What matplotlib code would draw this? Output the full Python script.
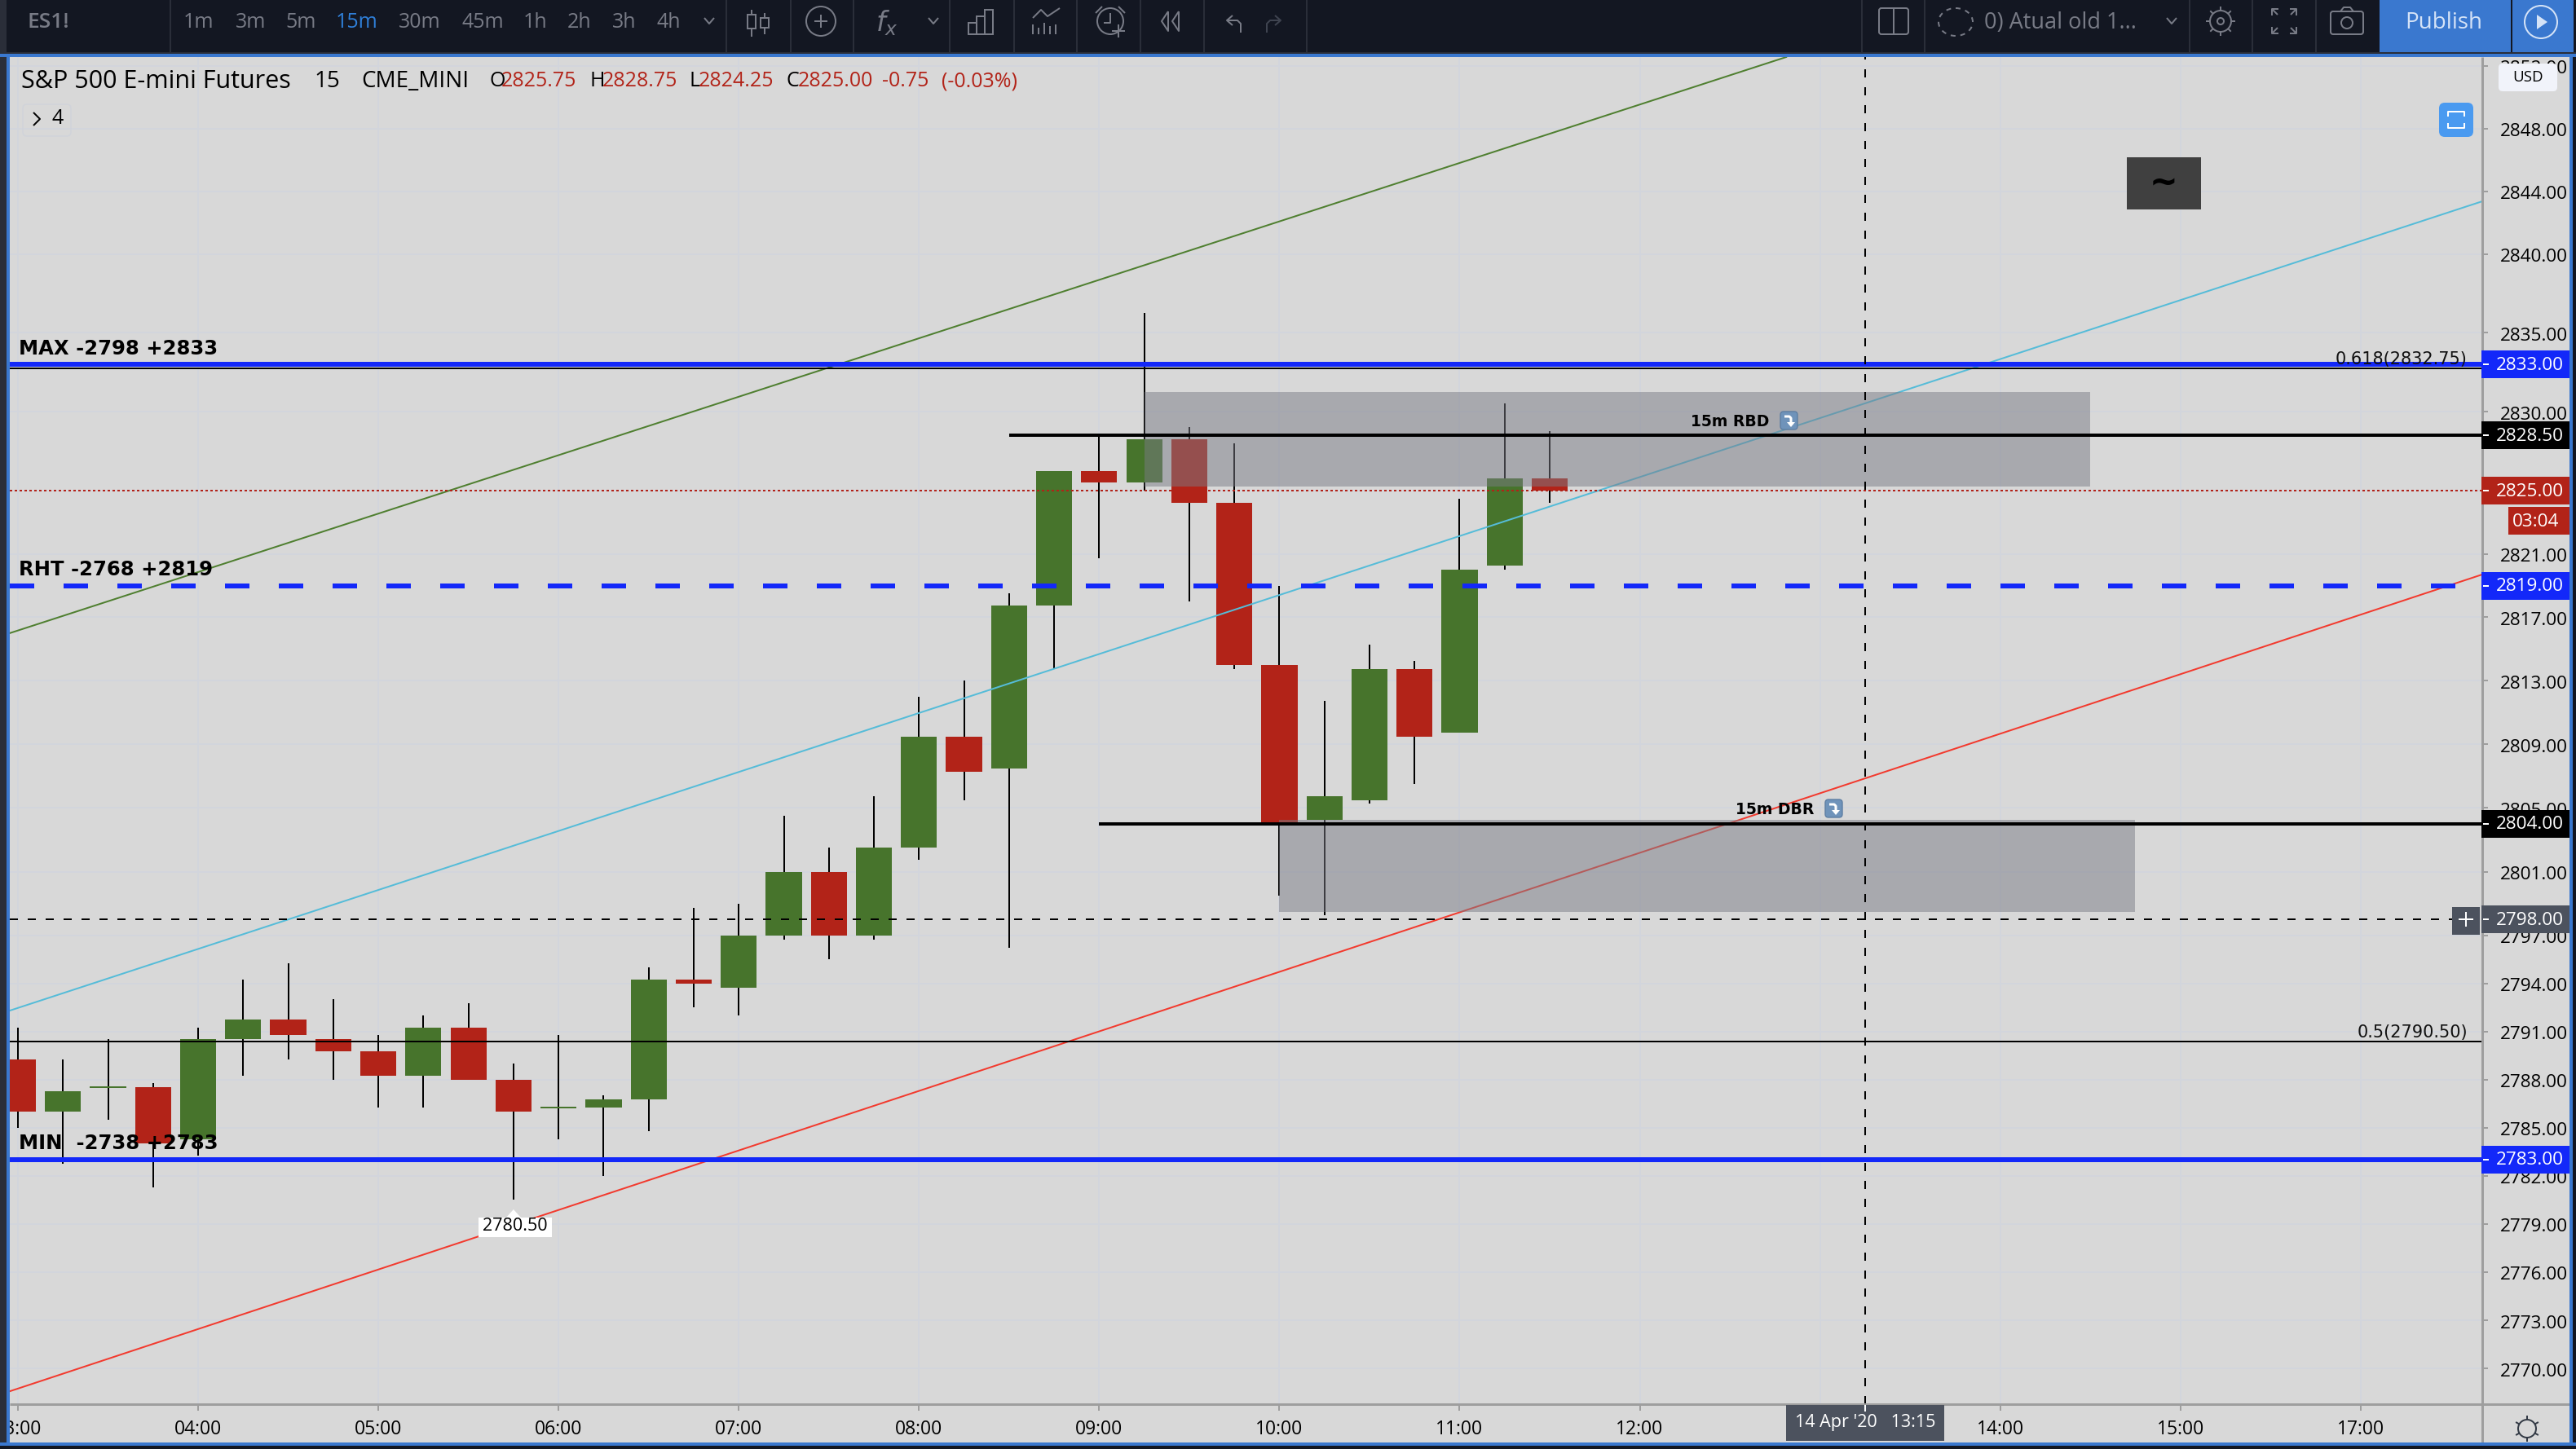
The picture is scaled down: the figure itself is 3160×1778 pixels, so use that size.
import numpy as np
import matplotlib
matplotlib.use("Agg")
import matplotlib.pyplot as plt
from matplotlib.patches import Rectangle, Circle, FancyBboxPatch, Polygon, Ellipse
from matplotlib.ticker import FixedLocator, FixedFormatter, NullLocator
from matplotlib.transforms import ScaledTranslation

# ---------- data ----------
opens  = [2789.25,2786,2787.5,2787.5,2784.25,2790.5,2791.75,2790.5,2789.75,2788.25,2791.25,2788,2786.25,2786.25,2786.75,
          2794.25,2793.75,2797,2801,2797,2802.5,2809.5,2807.5,2817.75,2826.25,2825.5,2828.25,2824.25,2814,2804.25,
          2805.5,2813.75,2809.75,2820.25,2825.75]
highs  = [2791.25,2789.25,2790.5,2787.75,2791.25,2794.25,2795.25,2793,2790.75,2792,2792.75,2789,2790.75,2787,2795,
          2798.75,2799,2804.5,2802.5,2805.75,2812,2813,2818.5,2826.25,2828.5,2836.25,2829,2828,2819,2811.75,
          2815.25,2814.25,2824.5,2830.5,2828.75]
lows   = [2785,2782.75,2785.5,2781.25,2783.25,2788.25,2789.25,2788,2786.25,2786.25,2788,2780.5,2784.25,2782,2784.75,
          2792.5,2792,2796.75,2795.5,2796.75,2801.75,2805.5,2796.25,2813.75,2820.75,2825,2818,2813.75,2799.5,2798.25,
          2805.25,2806.5,2809.75,2820,2824.25]
closes = [2786,2787.25,2787.5,2784,2790.5,2791.75,2790.75,2789.75,2788.25,2791.25,2788,2786,2786.25,2786.75,2794.25,
          2794,2797,2801,2797,2802.5,2809.5,2807.25,2817.75,2826.25,2825.5,2828.25,2824.25,2814,2804,2805.75,
          2813.75,2809.5,2820,2825.75,2825]
bars = np.arange(len(opens))

y_ticks = [2770,2773,2776,2779,2782,2785,2788,2791,2794,2797,2801,2805,2809,2813,2817,2821,2825,2830,2835,2840,2844,2848,2852]
x_ticks = [0,4,8,12,16,20,24,28,32,36,40,44,48,52]
x_labels = ["03:00","04:00","05:00","06:00","07:00","08:00","09:00","10:00","11:00","12:00","","14:00","15:00","17:00"]

green_line_x, green_line_y = [-0.181, 39.25], [2816.0, 2852.56]
cyan_line_x,  cyan_line_y  = [-0.181, 54.70], [2792.3, 2843.36]
red_line_x,   red_line_y   = [-0.181, 54.70], [2768.6, 2819.7]

max_level, rht_level, min_level = 2833.0, 2819.0, 2783.0
fib_618, fib_50 = 2832.75, 2790.375
rbd_level, dbr_level = 2828.5, 2804.0
rbd_start, dbr_start = 22, 24
rbd_zone = (25, 46, 2825.25, 2831.25)
dbr_zone = (28, 47, 2798.5, 2804.25)
last_price, cross_price, cross_bar = 2825.0, 2798.0, 41
low_bar, low_price = 11, 2780.5

price_tags = [(2833.0,"#1328f9"),(2828.5,"#000000"),(2825.0,"#b22318"),(2819.0,"#1328f9"),
              (2804.0,"#000000"),(2798.0,"#4c525e"),(2783.0,"#1328f9")]

# ---------- style ----------
BG="#d8d8d8"; GRID="#d2d5dc"; GREEN="#47742c"; RED="#b22318"; BLUE="#1328f9"
DARK="#131722"; GAP="#2a2e39"; EDGE="#3a78cf"; ICON="#787b86"; AXIS="#9e9e9e"
UI="Open Sans"; px=0.72
W,H=3160,1778
fig=plt.figure(figsize=(W/100,H/100),dpi=100,facecolor=BG)
L,R,T,B=12,3045,70,1723
ax=fig.add_axes([L/W,1-B/H,(R-L)/W,(B-T)/H],facecolor=BG)
ax.set_yscale("log")
ax.set_ylim(2767.8,2852.56)
ax.set_xlim(-0.181,54.70)
for s in ax.spines.values(): s.set_visible(False)
ax.yaxis.tick_right()
ax.yaxis.set_major_locator(FixedLocator(y_ticks))
ax.yaxis.set_major_formatter(FixedFormatter([f"{v:.2f}" for v in y_ticks]))
ax.yaxis.set_minor_locator(NullLocator())
ax.xaxis.set_major_locator(FixedLocator(x_ticks))
ax.xaxis.set_major_formatter(FixedFormatter(x_labels))
ax.tick_params(axis="y",length=7*px,width=2*px,color=AXIS,pad=15*px,labelsize=16.2,labelcolor="#000000")
ax.tick_params(axis="x",length=8*px,width=2*px,color=AXIS,pad=10*px,labelsize=16.5,labelcolor="#000000")
shift=ScaledTranslation(0,-1.5/100,fig.dpi_scale_trans)
for t in ax.get_xticklabels()+ax.get_yticklabels():
    t.set_fontfamily(UI)
    t.set_transform(t.get_transform()+shift)
ax.grid(True,color=GRID,lw=2*px,zorder=0)
ax.set_axisbelow(True)

# candles
ax.vlines(bars,lows,highs,color="#000000",lw=2*px,zorder=2)
for x,o,c in zip(bars,opens,closes):
    col=GREEN if c>=o else RED
    if o==c:
        ax.hlines(o,x-0.4,x+0.4,color=col,lw=2*px,zorder=3)
    else:
        ax.bar(x,abs(c-o),bottom=min(o,c),width=0.8,color=col,linewidth=0,zorder=3)

# trend lines
ax.plot(green_line_x,green_line_y,color="#4f7f30",lw=2*px,zorder=4)
ax.plot(cyan_line_x,cyan_line_y,color="#55bcd8",lw=2*px,zorder=4)
ax.plot(red_line_x,red_line_y,color="#f23a2e",lw=2*px,zorder=4)

# zones
for x0,x1,y0,y1 in (rbd_zone,dbr_zone):
    ax.add_patch(Rectangle((x0,y0),x1-x0,y1-y0,fc="#7a7b85",ec="none",alpha=0.5,zorder=5))

xmin,xmax=ax.get_xlim()
ax.hlines(fib_618,xmin,xmax,color="#000000",lw=2*px,zorder=6)
ax.hlines(fib_50,xmin,xmax,color="#000000",lw=2*px,zorder=6)
ax.hlines(max_level,xmin,xmax,color=BLUE,lw=6*px,zorder=6)
ax.hlines(min_level,xmin,xmax,color=BLUE,lw=6*px,zorder=6)
ax.plot([xmin,xmax],[rht_level,rht_level],color=BLUE,lw=6*px,zorder=6,dash_capstyle="butt",dashes=(5,6))
ax.hlines(rbd_level,rbd_start,xmax,color="#000000",lw=4*px,zorder=6)
ax.hlines(dbr_level,dbr_start,xmax,color="#000000",lw=4*px,zorder=6)
ax.plot([xmin,xmax],[last_price,last_price],color=RED,lw=2*px,zorder=6,dashes=(1.5,1.5),dash_capstyle="butt")
xcross_end=(3008-L)/(R-L)*(xmax-xmin)+xmin
ax.plot([xmin,xcross_end],[cross_price,cross_price],color="#000000",lw=2*px,zorder=7,dashes=(5,6),dash_capstyle="butt")
ax.plot([cross_bar,cross_bar],ax.get_ylim(),color="#000000",lw=2*px,zorder=7,dashes=(5,6),dash_capstyle="butt")

fig.canvas.draw()
def ypx(p): return H-ax.transData.transform((0,p))[1]
def xpx(b): return ax.transData.transform((b,2800))[0]

# ---------- overlay in pixel space ----------
ov=fig.add_axes([0,0,1,1],facecolor="none",zorder=10)
ov.set_xlim(0,W); ov.set_ylim(H,0); ov.axis("off")
def rect(x0,y0,x1,y1,c,z=1,**k): ov.add_patch(Rectangle((x0,y0),x1-x0,y1-y0,fc=c,ec="none",zorder=z,**k))
def line(xs,ys,c=ICON,lw=2,z=3,**k): ov.plot(xs,ys,color=c,lw=lw*px,zorder=z,solid_capstyle="butt",**k)
def txt(x,y,s,c="#000000",fs=15,ha="left",va="center",fam=UI,w="normal",z=5,**k):
    return ov.text(x,y,s,color=c,fontsize=fs,ha=ha,va=va,family=fam,weight=w,zorder=z,**k)

# axes frames
line([L,3152],[B,B],AXIS,3,z=2)
line([R,R],[T,1770],AXIS,3,z=2)

# chart text labels
dj="DejaVu Sans"
txt(23,435,"MAX -2798 +2833",fs=17.5,fam=dj,w="bold",va="baseline",z=4)
txt(23,706,"RHT -2768 +2819",fs=17.5,fam=dj,w="bold",va="baseline",z=4)
txt(23,1410,"MIN  -2738 +2783",fs=17.5,fam=dj,w="bold",va="baseline",z=4)
txt(3027,ypx(fib_618)-5,"0.618(2832.75)",fs=15,fam=dj,ha="right",va="baseline",c="#111111",z=4)
txt(3027,ypx(fib_50)-5,"0.5(2790.50)",fs=15,fam=dj,ha="right",va="baseline",c="#111111",z=4)
def emoji(x,y):
    # the curved-arrow symbol exists in no installed family, so it is drawn as a shape
    ov.add_patch(FancyBboxPatch((x+2,y+2),17,18,boxstyle="round,pad=2,rounding_size=4",fc="#6f93ba",ec="#5d7ea3",lw=1,zorder=5))
    line([x+5,x+11,x+13,x+13],[y+6,y+6,y+8,y+14],"#ffffff",3,z=6)
    ov.add_patch(Polygon([[x+8,y+13],[x+18,y+13],[x+13,y+19]],fc="#ffffff",ec="none",zorder=6))
txt(2074,523,"15m RBD",fs=13.5,fam=dj,w="bold",va="baseline",z=4); emoji(2184,505)
txt(2129,999,"15m DBR",fs=13.5,fam=dj,w="bold",va="baseline",z=4); emoji(2239,981)

# low label
lx=xpx(low_bar)
ov.add_patch(Polygon([[lx-9,1494],[lx,1484],[lx+9,1494]],fc="#ffffff",ec="none",zorder=4))
rect(lx-43,1494,lx+47,1518,"#ffffff",z=4)
txt(lx+2,1505,f"{low_price:.2f}",fs=15.5,ha="center",z=5)

# price tags
for p,c in price_tags:
    y=ypx(p)
    rect(3044,y-17,3152,y+17,c,z=3)
    line([3046,3053],[y,y],"#ffffff",2,z=4)
    txt(3062,y+1,f"{p:.2f}",c="#ffffff",fs=16.2,z=5)
rect(3077,622,3152,656,RED,z=3)
txt(3139,640,"03:04",c="#ffffff",fs=16.2,ha="right",z=5)
rect(3008,1113,3042,1147,"#4c525e",z=3)
line([3016,3034],[ypx(cross_price)]*2,"#ffffff",2,z=4)
line([3025,3025],[ypx(cross_price)-9,ypx(cross_price)+9],"#ffffff",2,z=4)

# USD
ov.add_patch(FancyBboxPatch((3069,82),64,26,boxstyle="round,pad=4,rounding_size=5",fc="#f1f3fa",ec="none",zorder=6))
txt(3101,95,"USD",fs=13.5,ha="center",z=7)
# blue button
ov.add_patch(FancyBboxPatch((2997,131),32,32,boxstyle="round,pad=5,rounding_size=7",fc="#4a9af0",ec="none",zorder=3))
line([3003,3003,3023,3023],[143,137,137,143],"#ffffff",2,z=4)
line([3003,3003,3023,3023],[151,157,157,151],"#ffffff",2,z=4)
# dark "~" box
rect(2609,193,2700,257,"#404040",z=3)
txt(2654,225,"~",fs=30,ha="center",fam=dj,w="bold",z=4)

# legend row
ov.add_patch(FancyBboxPatch((30,130),55,35,boxstyle="round,pad=2,rounding_size=5",fc="none",ec="#d0d3da",lw=1,zorder=2))
txt(26,100,"S&P 500 E-mini Futures",fs=22)
txt(385,100,"15",fs=20)
txt(443,100,"CME_MINI",fs=20)
for x,s,c in [(600,"O","#000"),(615,"2825.75",RED),(723,"H","#000"),(739,"2828.75",RED),
              (845,"L","#000"),(857,"2824.25",RED),(964,"C","#000"),(979,"2825.00",RED),
              (1082,"-0.75",RED),(1155,"(-0.03%)",RED)]:
    txt(x,100,s,c=c,fs=18)
line([41,49,41],[138,146,154],"#000000",2,z=4)
txt(64,146,"4",fs=18)

# date box
rect(2191,1724,2385,1768,"#4c525e",z=3)
txt(2288,1746,"14 Apr '20   13:15",c="#ffffff",fs=15.5,ha="center",z=4)
line([xpx(cross_bar)]*2,[1724,1732],"#ffffff",2,z=4)

# bottom gear
ov.add_patch(Circle((3100,1753),11,fc="none",ec="#333a45",lw=2*px,zorder=4))
for a in np.arange(0,360,60):
    ca,sa=np.cos(np.radians(a+30)),np.sin(np.radians(a+30))
    line([3100+11*ca,3100+16*ca],[1753+11*sa,1753+16*sa],"#333a45",2,z=4)

# toolbar & frame
rect(0,0,W,64,DARK,z=6); rect(0,64,W,66,GAP,z=6); rect(0,66,W,70,EDGE,z=7)
rect(0,0,8,H,GAP,z=6); rect(8,66,12,1774,EDGE,z=7)
rect(3156,66,W,H,DARK,z=6); rect(3152,66,3156,1774,EDGE,z=7)
rect(0,1770,W,1774,EDGE,z=7); rect(0,1774,W,H,DARK,z=6)
for x in [209,891,970,1047,1165,1244,1321,1399,1477,1603,2284,2361,2686,2763,2841]:
    line([x,x],[0,64],"#2a2e39",2,z=7)
txt(33,28,"ES1!",c=ICON,fs=19,z=8,w="semibold")
for x,s in [(243,"1m"),(308,"3m"),(369,"5m"),(515,"30m"),(592,"45m"),(657,"1h"),(711,"2h"),(766,"3h"),(820,"4h")]:
    txt(x,28,s,c=ICON,fs=18,ha="center",z=8)
txt(438,28,"15m",c="#2f7fd8",fs=18,ha="center",z=8)
def chev(x,y): line([x-6,x,x+6],[y-3,y+4,y-3],ICON,2,z=8)
chev(870,25); chev(1145,25); chev(2664,25)
# candle icon
line([922,922],[12,45],z=8); ov.add_patch(Rectangle((917,18),10,17,fc=DARK,ec=ICON,lw=2*px,zorder=8))
line([938,938],[16,42],z=8); ov.add_patch(Rectangle((933,22),10,12,fc=DARK,ec=ICON,lw=2*px,zorder=8))
# plus circle
ov.add_patch(Circle((1007,26),18,fc="none",ec=ICON,lw=2*px,zorder=8))
line([999,1015],[26,26],z=8); line([1007,1007],[18,34],z=8)
txt(1088,28,"$\\mathit{f}_{x}$",c=ICON,fs=24,ha="center",fam=dj,z=8)
# bar icon
ov.add_patch(Rectangle((1188,28),10,14,fc="none",ec=ICON,lw=2*px,zorder=8))
ov.add_patch(Rectangle((1198,20),10,22,fc="none",ec=ICON,lw=2*px,zorder=8))
ov.add_patch(Rectangle((1208,12),10,30,fc="none",ec=ICON,lw=2*px,zorder=8))
# indicator icon
line([1267,1277,1285,1300],[22,12,20,10],z=8)
for x,h0 in [(1267,30),(1274,34),(1281,28),(1288,32),(1295,30)]:
    line([x,x],[h0,42],z=8)
# alarm
ov.add_patch(Circle((1362,26),16,fc="none",ec=ICON,lw=2*px,zorder=8))
line([1362,1362,1354],[16,28,28],z=8); line([1372,1372],[30,46],z=8); line([1364,1380],[38,38],z=8)
line([1344,1352],[16,8],z=8); line([1380,1372],[16,8],z=8)
# rewind
line([1433,1425,1433,1433],[14,26,38,14],z=8); line([1446,1438,1446,1446],[14,26,38,14],z=8)
# undo/redo
line([1512,1505,1512],[19,25,31],z=8); line([1505,1518,1522,1522],[25,25,29,40],z=8)
line([1564,1571,1564],[19,25,31],"#3f4450",z=8); line([1571,1558,1554,1554],[25,25,29,40],"#3f4450",z=8)
# layout
ov.add_patch(FancyBboxPatch((2307,12),32,28,boxstyle="round,pad=2,rounding_size=3",fc="none",ec=ICON,lw=2*px,zorder=8))
line([2323,2323],[10,42],z=8)
# cloud
ov.add_patch(Ellipse((2399,27),42,34,fc="none",ec=ICON,lw=2*px,ls=(0,(3,3)),zorder=8))
txt(2434,28,"0) Atual old 1...",c=ICON,fs=19.5,z=8)
# gear
ov.add_patch(Circle((2724,26),13,fc="none",ec=ICON,lw=2*px,zorder=8))
ov.add_patch(Circle((2724,26),4,fc="none",ec=ICON,lw=2*px,zorder=8))
for a in np.arange(0,360,45):
    ca,sa=np.cos(np.radians(a)),np.sin(np.radians(a))
    line([2724+13*ca,2724+18*ca],[26+13*sa,26+18*sa],z=8)
# expand
for sx,sy in [(-1,-1),(1,-1),(-1,1),(1,1)]:
    cx,cy=2802+sx*15,26+sy*15
    line([cx-sx*8,cx,cx],[cy,cy,cy-sy*8],z=8); line([cx,cx-sx*7],[cy,cy-sy*7],z=8)
# camera
ov.add_patch(FancyBboxPatch((2861,16),36,24,boxstyle="round,pad=2,rounding_size=3",fc="none",ec=ICON,lw=2*px,zorder=8))
ov.add_patch(Circle((2879,28),7,fc="none",ec=ICON,lw=2*px,zorder=8))
line([2871,2875,2883,2887],[14,9,9,14],z=8)
# publish
rect(2919,0,3080,64,EDGE,z=7); rect(3082,0,3157,64,EDGE,z=7)
txt(2998,28,"Publish",c="#d5e3f7",fs=20,ha="center",z=8)
ov.add_patch(Circle((3117,27),20,fc="none",ec="#d5e3f7",lw=2*px,zorder=8))
ov.add_patch(Polygon([[3112,18],[3125,27],[3112,36]],fc="#d5e3f7",ec="none",zorder=8))

fig.savefig("out.png",dpi=100,facecolor=fig.get_facecolor())
